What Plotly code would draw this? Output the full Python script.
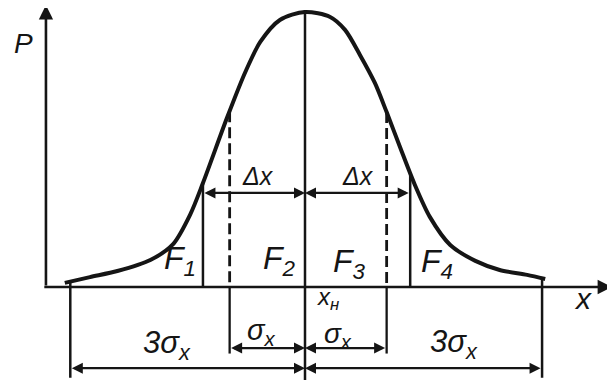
"""
Normal distribution sketch: areas F1..F4 around x_n, with sigma and 3 sigma spans.
"""
import numpy as np
import plotly.graph_objects as go

curve_x = [-3.06, -2.74, -2.39, -1.97, -1.68, -1.46, -1.30, -0.99, -0.76, -0.57,
           -0.32, 0.0, 0.32, 0.51, 0.70, 0.89, 1.04, 1.21, 1.40, 1.59,
           1.85, 2.17, 2.48, 2.83, 3.06]
curve_p = [0.015, 0.036, 0.058, 0.098, 0.156, 0.265, 0.378, 0.618, 0.782, 0.891,
           0.971, 1.0, 0.982, 0.935, 0.844, 0.742, 0.636, 0.509, 0.371, 0.255,
           0.153, 0.095, 0.062, 0.044, 0.029]

# Vertical marks (sigma units)
center_x = 0.0
sigma_marks = [-0.96, 1.04]
three_sigma_marks = [-2.99, 3.02]
dx_marks = [-1.30, 1.34]

# Labels
area_labels = ["F<sub>1</sub>", "F<sub>2</sub>", "F<sub>3</sub>", "F<sub>4</sub>"]
sigma_label = "σ<sub>x</sub>"
three_sigma_label = "3σ<sub>x</sub>"
dx_label = "Δx"
center_label = "x<sub>н</sub>"

INK = "#151515"
FONT = "Liberation Sans"

# Sheet geometry: x_n at px 305, 78.5 px per sigma, axis at px 287, 275 px per unit P.
# The page adds an 8 px body margin, so the plot starts at px 8.
PX_X, PX_Y = 78.5, 275.0
OFFSET = 8
X_RANGE = [(OFFSET - 305) / PX_X, (615 - 305) / PX_X]
Y_RANGE = [(287 - 383) / PX_Y, (287 - OFFSET) / PX_Y]

# Levels of the dimension arrows
DX_LEVEL = 0.342
SIGMA_LEVEL = -0.222
THREE_SIGMA_LEVEL = -0.295
LOW_END = -0.33


def curve_at(x):
    return float(np.interp(x, curve_x, curve_p))


def _add_line(fig, x0, y0, x1, y1, width=2.4, dash="solid"):
    fig.add_shape(type="line", xref="x", yref="y", x0=x0, y0=y0, x1=x1, y1=y1,
                  line=dict(color=INK, width=width, dash=dash))


def _add_arrow(fig, x0, y0, x1, y1, both=True, width=2.2, size=1.0):
    fig.add_annotation(x=x1, y=y1, ax=x0, ay=y0, xref="x", yref="y",
                       axref="x", ayref="y", text="", showarrow=True,
                       arrowhead=2, arrowsize=size, arrowwidth=width,
                       arrowcolor=INK, arrowside="end+start" if both else "end",
                       standoff=0, startstandoff=0)


def _add_label(fig, x, y, text, size):
    fig.add_annotation(x=x, y=y, xref="x", yref="y", text=f"<i>{text}</i>",
                       showarrow=False, xanchor="center", yanchor="middle",
                       font=dict(family=FONT, size=size, color=INK))


fig = go.Figure()

# Curve
fig.add_trace(go.Scatter(x=curve_x, y=curve_p, mode="lines",
                         line=dict(color=INK, width=4, shape="spline", smoothing=0.8),
                         hoverinfo="skip", showlegend=False))

# Axes with arrows
_add_arrow(fig, -3.30, 0, -3.30, 1.025, both=False, width=2.6, size=1.1)
_add_arrow(fig, -3.34, 0, 3.91, 0, both=False, width=2.6, size=1.1)

# Center line x_n
_add_line(fig, center_x, 1.007, center_x, -0.338, width=2.5)

# Sigma lines: dashed above axis, solid below
for xm in sigma_marks:
    _add_line(fig, xm, curve_at(xm), xm, 0, width=2.8, dash="11px,5px")
    _add_line(fig, xm, 0, xm, SIGMA_LEVEL - 0.02, width=2.3)

# 3 sigma lines
for xm in three_sigma_marks:
    _add_line(fig, xm, curve_at(xm), xm, LOW_END, width=2.5)

# Delta x lines
for xm in dx_marks:
    _add_line(fig, xm, curve_at(xm), xm, 0, width=2.5)

# Dimension arrows
for xm in dx_marks:
    _add_arrow(fig, xm, DX_LEVEL, center_x, DX_LEVEL)
for xm in sigma_marks:
    _add_arrow(fig, xm, SIGMA_LEVEL, center_x, SIGMA_LEVEL)
for xm in three_sigma_marks:
    _add_arrow(fig, xm, THREE_SIGMA_LEVEL, center_x, THREE_SIGMA_LEVEL)

# Text
_add_label(fig, -3.58, 0.887, "P", 28)
_add_label(fig, 3.54, -0.04, "x", 30)
_add_label(fig, -0.60, 0.404, dx_label, 25)
_add_label(fig, 0.675, 0.404, dx_label, 25)
for xl, yl, txt in zip([-1.59, -0.32, 0.57, 1.68], [0.095, 0.095, 0.085, 0.085], area_labels):
    _add_label(fig, xl, yl, txt, 32)
_add_label(fig, 0.29, -0.04, center_label, 24)
_add_label(fig, -0.56, -0.165, sigma_label, 29)
_add_label(fig, 0.42, -0.178, sigma_label, 28)
_add_label(fig, -1.76, -0.21, three_sigma_label, 31)
_add_label(fig, 1.90, -0.207, three_sigma_label, 31)

fig.update_layout(
    width=615 - OFFSET, height=383 - OFFSET,
    margin=dict(l=0, r=0, t=0, b=0),
    paper_bgcolor="white", plot_bgcolor="white",
    xaxis=dict(range=X_RANGE, visible=False, fixedrange=True),
    yaxis=dict(range=Y_RANGE, visible=False, fixedrange=True),
    showlegend=False,
)

fig.write_html("out.html")
